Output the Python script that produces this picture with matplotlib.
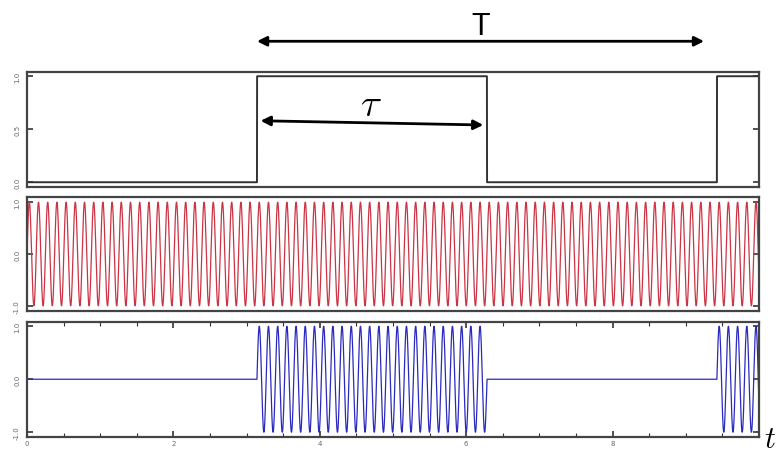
import numpy as np
import matplotlib
matplotlib.use("Agg")
import matplotlib.pyplot as plt
from matplotlib.ticker import MultipleLocator

plt.rcParams["mathtext.fontset"] = "cm"

# pulse train: switch times and levels
pulse_edges = [0.0, 3.1416, 6.2832, 9.4248, 10.0]
pulse_levels = [0.0, 1.0, 0.0, 1.0]
# carrier: about 8 cycles per unit of t (angular frequency ~50)
carrier_omega = 50.0
carrier_amp = 1.0
x_ticks = [0, 2, 4, 6, 8]
x_tick_labels = ["0", "2", "4", "6", "8"]

t = np.linspace(0, 10, 20001)
idx = np.clip(np.searchsorted(pulse_edges, t, side="right") - 1, 0, len(pulse_levels) - 1)
pulse = np.array(pulse_levels)[idx]
carrier = carrier_amp * np.sin(carrier_omega * t)
modulated = pulse * carrier

W, H = 778, 456
fig = plt.figure(figsize=(W / 100, H / 100), dpi=100)

def ax_at(top, bottom):
    return fig.add_axes([27 / W, 1 - bottom / H, 732 / W, (bottom - top) / H])

ax1 = ax_at(73, 188)
ax2 = ax_at(198, 312)
ax3 = ax_at(323, 438)

ax1.plot(t, pulse, color="#333333", lw=1.4)
ax2.plot(t, carrier, color="#cc3344", lw=0.9)
ax3.plot(t, modulated, color="#2a2ac0", lw=0.9)

ax1.set_ylim(-0.045, 1.04)
ax1.set_yticks([0.0, 0.5, 1.0])
ax2.set_ylim(-1.1, 1.1)
ax2.set_yticks([-1.0, 0.0, 1.0])
ax3.set_ylim(-1.09, 1.08)
ax3.set_yticks([-1.0, 0.0, 1.0])

for ax in (ax1, ax2, ax3):
    ax.set_xlim(0, 10)
    ax.xaxis.set_major_locator(MultipleLocator(2))
    ax.xaxis.set_minor_locator(MultipleLocator(0.5))
    for s in ax.spines.values():
        s.set_color("#444444")
        s.set_linewidth(1.6)
    ax.tick_params(which="both", direction="in", top=True, right=True,
                   color="#333333", labelsize=5, labelcolor="#666666", pad=2)
    ax.tick_params(axis="y", pad=5)
    ax.tick_params(which="major", length=4, width=1.2)
    ax.tick_params(which="minor", length=3, width=0.8)
    ax.yaxis.set_major_formatter(plt.FormatStrFormatter("%.1f"))
    for lab in ax.get_yticklabels():
        lab.set_rotation(90)
        lab.set_va("center")

# only the bottom panel carries x ticks
for ax in (ax1, ax2):
    ax.tick_params(axis="x", which="both", bottom=False, top=False, labelbottom=False)
ax3.set_xticks(x_ticks)
ax3.set_xticklabels(x_tick_labels)

# period T arrow above the top panel
ax1.annotate("", xy=(pulse_edges[1], 1.33), xytext=(9.25, 1.33),
             xycoords="data", annotation_clip=False,
             arrowprops=dict(arrowstyle="<|-|>", color="black", lw=2,
                             mutation_scale=14, shrinkA=0, shrinkB=0))
ax1.text(6.2, 1.47, "T", ha="center", va="center", fontsize=22,
         family="Liberation Sans", clip_on=False)

# pulse width tau arrow
ax1.annotate("", xy=(pulse_edges[1] + 0.05, 0.58), xytext=(pulse_edges[2] - 0.05, 0.54),
             xycoords="data",
             arrowprops=dict(arrowstyle="<|-|>", color="black", lw=2,
                             mutation_scale=14, shrinkA=0, shrinkB=0))
ax1.text(4.7, 0.74, r"$\tau$", ha="center", va="center", fontsize=28)

fig.text(764 / W, 1 - 440 / H, r"$t$", ha="left", va="center", fontsize=22)

fig.savefig("out.png", dpi=100)
